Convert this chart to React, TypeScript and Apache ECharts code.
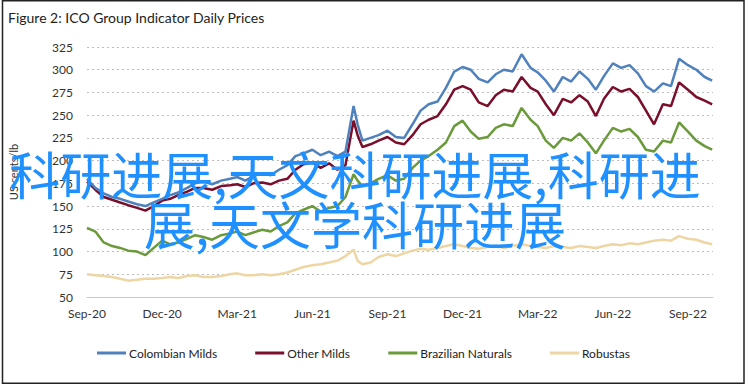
import React, { useEffect, useRef } from "react";
import * as echarts from "echarts";

const dates = [
  "2020-09-01", "2020-09-11", "2020-09-21", "2020-10-01", "2020-10-11", "2020-10-21",
  "2020-11-01", "2020-11-11", "2020-11-21", "2020-12-01", "2020-12-11", "2020-12-21",
  "2021-01-01", "2021-01-11", "2021-01-21", "2021-02-01", "2021-02-11", "2021-02-21",
  "2021-03-01", "2021-03-11", "2021-03-21", "2021-04-01", "2021-04-11", "2021-04-21",
  "2021-05-01", "2021-05-11", "2021-05-21", "2021-06-01", "2021-06-11", "2021-06-21",
  "2021-07-01", "2021-07-11", "2021-07-21", "2021-07-26",
  "2021-08-01", "2021-08-11", "2021-08-21", "2021-09-01", "2021-09-11", "2021-09-21",
  "2021-10-01", "2021-10-11", "2021-10-21", "2021-11-01", "2021-11-11", "2021-11-21",
  "2021-12-01", "2021-12-11", "2021-12-21",
  "2022-01-01", "2022-01-11", "2022-01-21", "2022-02-01", "2022-02-11", "2022-02-21",
  "2022-03-01", "2022-03-11", "2022-03-21", "2022-04-01", "2022-04-11", "2022-04-21",
  "2022-05-01", "2022-05-11", "2022-05-21", "2022-06-01", "2022-06-11", "2022-06-21",
  "2022-07-01", "2022-07-11", "2022-07-21", "2022-08-01", "2022-08-11", "2022-08-21",
  "2022-09-01", "2022-09-11", "2022-09-21", "2022-09-30",
];

const colombianMilds = [
  180, 170, 164, 160, 158, 155, 152, 150, 154, 158, 162, 165,
  170, 175, 177, 174, 178, 180, 182, 178, 183, 186, 184, 190, 195, 205, 208, 212, 206, 210, 205, 210, 260, 240,
  222, 225, 228, 233, 226, 225, 240, 255, 262, 265, 280, 298, 303, 300, 290,
  286, 295, 300, 298, 317, 302, 297, 288, 276, 292, 287, 298, 290, 278, 293, 307, 302, 305, 296, 282, 276, 285, 282, 312, 305, 300, 292, 288,
];

const otherMilds = [
  177, 168, 160, 157, 154, 151, 148, 145, 150, 156, 158, 162,
  166, 170, 170, 168, 172, 173, 174, 171, 175, 176, 174, 178, 180, 190, 196, 198, 192, 197, 190, 195, 244, 228,
  215, 218, 222, 226, 220, 218, 228, 240, 245, 249, 262, 278, 282, 278, 264,
  260, 272, 278, 276, 292, 280, 276, 262, 250, 268, 264, 272, 265, 249, 268, 281, 276, 279, 270, 255, 240, 262, 260, 286, 278, 270, 266, 262,
];

const brazilianNaturals = [
  126, 122, 110, 106, 104, 101, 100, 96, 104, 112, 108, 110,
  114, 118, 116, 113, 118, 120, 122, 118, 121, 124, 122, 128, 132, 142, 146, 150, 144, 148, 150, 160, 185, 178,
  172, 175, 180, 184, 178, 180, 192, 200, 205, 212, 220, 238, 244, 232, 224,
  226, 236, 240, 238, 258, 245, 238, 222, 214, 225, 222, 230, 220, 208, 222, 236, 232, 235, 226, 212, 210, 222, 220, 242, 232, 222, 216, 212,
];

const robustas = [
  75, 74, 73, 72, 70, 68, 69, 70, 70, 71, 72, 71,
  73, 74, 72, 72, 73, 75, 76, 74, 74, 75, 74, 75, 77, 80, 83, 85, 86, 88, 90, 95, 102, 90,
  86, 88, 94, 97, 95, 98, 101, 103, 102, 104, 106, 108, 106, 104, 103,
  105, 106, 104, 106, 108, 106, 105, 104, 106, 105, 104, 106, 105, 104, 106, 108, 107, 109, 108, 110, 112, 113, 112, 117, 114, 113, 110, 108,
];

const seriesNames = ["Colombian Milds", "Other Milds", "Brazilian Naturals", "Robustas"];
const seriesColors = ["#4f81bd", "#7a0f2b", "#6a9a3a", "#eed6a4"];
const xTickLabels = ["Sep-20", "Dec-20", "Mar-21", "Jun-21", "Sep-21", "Dec-21", "Mar-22", "Jun-22", "Sep-22"];

const titleText = "Figure 2: ICO Group Indicator Daily Prices";
const yAxisName = "US cents/lb";
const overlayText = "科研进展,天文科研进展,科研进展,天文学科研进展";

function monthIndex(d: string): number {
  const [y, m, day] = d.split("-").map(Number);
  const dim = new Date(y, m, 0).getDate();
  return (y - 2020) * 12 + (m - 9) + (day - 1) / dim;
}

const FONT = "Lato, 'Noto Sans', sans-serif";

export default function App() {
  const ref = useRef<HTMLDivElement>(null);

  useEffect(() => {
    document.body.style.margin = "0";
    if (!ref.current) return;
    const chart = echarts.init(ref.current, undefined, { renderer: "svg" });
    const allValues = [colombianMilds, otherMilds, brazilianNaturals, robustas];

    chart.setOption({
      animation: false,
      backgroundColor: "#ffffff",
      textStyle: { fontFamily: FONT },
      grid: { left: 86, right: 35, top: 47, bottom: 90 },
      legend: {
        data: seriesNames,
        left: 92,
        top: 342,
        icon: "rect",
        itemWidth: 29,
        itemHeight: 3,
        itemGap: 38,
        textStyle: { fontSize: 12, color: "#222", fontFamily: FONT, padding: [0, 0, 0, -2] },
      },
      xAxis: {
        type: "value",
        min: 0,
        max: 25,
        interval: 3,
        axisLine: { show: true, lineStyle: { color: "#c8c8c8", width: 1 } },
        axisTick: { show: false },
        splitLine: { show: false },
        axisLabel: {
          color: "#333",
          fontSize: 12,
          margin: 10,
          formatter: (v: number) => {
            const i = Math.round(v / 3);
            return Math.abs(v - i * 3) < 1e-6 && i < xTickLabels.length ? xTickLabels[i] : "";
          },
        },
      },
      yAxis: {
        type: "value",
        min: 50,
        max: 325,
        interval: 25,
        name: yAxisName,
        nameLocation: "middle",
        nameGap: 68,
        nameTextStyle: { fontSize: 11, color: "#333" },
        axisLine: { show: false },
        axisTick: { show: false },
        axisLabel: { color: "#333", fontSize: 12, margin: 14 },
        splitLine: { show: true, lineStyle: { color: "#bdbdbd", type: [2, 3], width: 1 } },
      },
      series: seriesNames.map((name, k) => ({
        name,
        type: "line",
        showSymbol: false,
        symbol: "none",
        color: seriesColors[k],
        lineStyle: { width: 2.5, color: seriesColors[k] },
        z: 4 - k,
        data: dates.map((d, i) => [monthIndex(d), allValues[k][i]]),
      })),
      graphic: [
        {
          type: "rect",
          shape: { x: 2.5, y: 0.75, width: 741.5, height: 382.5 },
          style: { fill: "none", stroke: "#222", lineWidth: 1.5 },
          z: 50,
        },
        {
          type: "text",
          x: 8,
          y: 17,
          style: {
            text: titleText,
            fontSize: 14,
            fontFamily: FONT,
            fill: "#222",
            verticalAlign: "middle",
          },
          z: 50,
        },
        {
          type: "text",
          x: 355,
          y: 148,
          style: {
            text: overlayText,
            width: 712,
            overflow: "break",
            align: "center",
            verticalAlign: "top",
            fontSize: 51,
            lineHeight: 50,
            fontFamily: "'Noto Sans CJK SC', sans-serif",
            fill: "#1e90ff",
          },
          z: 100,
        },
      ],
    });

    return () => chart.dispose();
  }, []);

  return <div ref={ref} style={{ width: 748, height: 387 }} />;
}
